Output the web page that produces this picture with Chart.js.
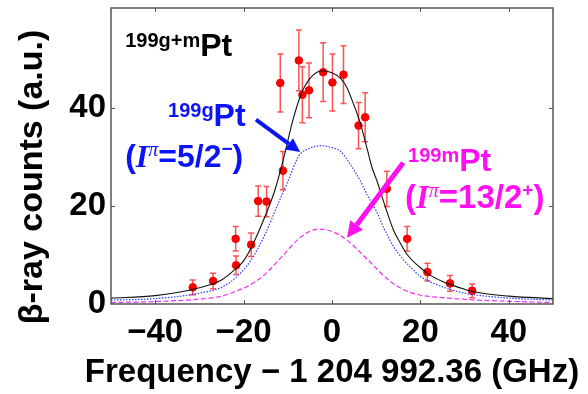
<!DOCTYPE html>
<html>
<head>
<meta charset="utf-8">
<script src="https://cdn.jsdelivr.net/npm/chart.js@4.4.1/dist/chart.umd.min.js"></script>
<style>
  html, body { margin: 0; padding: 0; background: #fff; }
  #wrap { width: 588px; height: 394px; }
</style>
</head>
<body>
<div id="wrap"><canvas id="chart" width="588" height="394"></canvas></div>
<script>
// ---- fit curves ----
// total (199g + 199m), black solid
const totalX = [-50, -40, -30, -25, -22, -20, -18, -15, -13, -11, -9, -7, -5, -2.3, 0, 2, 3.3, 5, 6.3, 8, 9, 10.1, 12, 13.9, 15.4, 17, 20, 22, 25, 27, 30, 32, 40, 50];
const totalY = [1.2, 1.7, 3.3, 4.9, 7.0, 8.8, 12.0, 18.2, 23.0, 29.5, 37.0, 42.8, 46.0, 47.6, 47.2, 46.0, 44.3, 40.5, 37.2, 31.5, 28.0, 25.3, 20.0, 15.1, 12.5, 10.1, 7.4, 6.0, 4.6, 3.9, 3.0, 2.5, 1.6, 1.1];
// ground state 199gPt, blue dotted
const groundX = [-50, -40, -30, -25, -22, -18.5, -15, -12.5, -10, -7.5, -5, -2.5, 0, 2, 4, 6.3, 8, 10, 12, 14, 16, 18, 20, 22, 25, 27, 30, 32, 40, 50];
const groundY = [0.8, 1.1, 2.2, 3.4, 5.2, 8.7, 14.5, 19.8, 25.0, 30.2, 31.8, 32.3, 31.9, 31.1, 28.7, 25.3, 22.2, 19.0, 15.0, 11.6, 9.2, 7.3, 5.6, 4.6, 3.5, 2.9, 2.2, 1.9, 1.2, 0.8];
// isomer 199mPt, magenta dashed
const isomerX = [-50, -40, -30, -25, -22, -18.5, -15, -11, -7, -3, 0, 3.3, 7, 10, 12, 15, 19, 25, 33, 40, 50];
const isomerY = [0.3, 0.5, 1.0, 1.6, 2.5, 3.9, 6.2, 10.0, 13.7, 15.3, 14.8, 13.1, 10.0, 7.3, 5.5, 3.5, 2.0, 1.3, 0.8, 0.55, 0.3];

// ---- measured points with error bars ----
const measX = [-31.5, -26.9, -21.8, -21.7, -18.3, -16.7, -14.8, -11.7, -11.1, -7.5, -6.7, -5.2, -2.0, 0.1, 2.6, 6.0, 7.5, 12.4, 17.0, 21.6, 26.7, 31.7];
const measY = [3.4, 4.7, 13.3, 7.9, 12.1, 21.0, 20.9, 45.1, 27.2, 49.7, 42.7, 43.6, 47.3, 45.2, 46.8, 36.4, 38.1, 23.5, 13.3, 6.5, 4.2, 2.7];
const measErr = [1.5, 1.6, 2.5, 1.9, 2.4, 3.1, 3.1, 5.9, 3.9, 6.2, 5.7, 5.6, 6.0, 5.8, 5.9, 4.7, 5.0, 3.6, 2.5, 1.8, 1.6, 1.4];

// axes
const xRange = [-50, 50];
const yRange = [0, 60.4];
const xLabelled = [-40, -20, 0, 20, 40];
const yLabelled = [0, 20, 40];
const xTitle = 'Frequency − 1 204 992.36 (GHz)';
const yTitle = 'β-ray counts (a.u.)';

const SANS = '"Liberation Sans", Arial, sans-serif';
const SERIF = '"Liberation Serif", "Times New Roman", serif';
const BLUE = '#0a14f5';
const MAGENTA = '#ff10f0';

const toXY = (xs, ys) => xs.map((v, i) => ({ x: v, y: ys[i] }));

// draw text made of pieces (superscripts etc.)
function rich(ctx, x, y, parts, color) {
  ctx.fillStyle = color;
  ctx.textAlign = 'left';
  ctx.textBaseline = 'alphabetic';
  let cx = x;
  parts.forEach(p => {
    ctx.font = p.f;
    ctx.fillText(p.t, cx, y + (p.dy || 0));
    cx += ctx.measureText(p.t).width + (p.sp || 0);
  });
}

function arrow(ctx, x0, y0, x1, y1, color, w, head, hw) {
  const a = Math.atan2(y1 - y0, x1 - x0);
  const bx = x1 - head * Math.cos(a), by = y1 - head * Math.sin(a);
  ctx.strokeStyle = color;
  ctx.fillStyle = color;
  ctx.lineWidth = w;
  ctx.beginPath();
  ctx.moveTo(x0, y0);
  ctx.lineTo(bx, by);
  ctx.stroke();
  ctx.beginPath();
  ctx.moveTo(x1, y1);
  ctx.lineTo(bx + hw * Math.sin(a), by - hw * Math.cos(a));
  ctx.lineTo(bx - hw * Math.sin(a), by + hw * Math.cos(a));
  ctx.closePath();
  ctx.fill();
}

const extras = {
  id: 'extras',
  // error bars go under the red points
  beforeDatasetDraw(chart, args) {
    if (args.index !== 3) return;
    const { ctx, scales: { x, y } } = chart;
    ctx.save();
    ctx.strokeStyle = 'rgba(250,40,40,0.8)';
    ctx.lineWidth = 1.5;
    measX.forEach((mx, i) => {
      const px = x.getPixelForValue(mx);
      const top = y.getPixelForValue(measY[i] + measErr[i]);
      const bot = y.getPixelForValue(measY[i] - measErr[i]);
      ctx.beginPath();
      ctx.moveTo(px, top); ctx.lineTo(px, bot);
      ctx.moveTo(px - 3, top); ctx.lineTo(px + 3, top);
      ctx.moveTo(px - 3, bot); ctx.lineTo(px + 3, bot);
      ctx.stroke();
    });
    ctx.restore();
  },
  afterDraw(chart) {
    const { ctx, chartArea: a, scales: { x, y } } = chart;
    ctx.save();
    // frame with inward ticks
    ctx.strokeStyle = '#555';
    ctx.lineWidth = 1.5;
    ctx.strokeRect(a.left, a.top, a.right - a.left, a.bottom - a.top);
    ctx.lineWidth = 1;
    ctx.beginPath();
    x.ticks.forEach(t => {
      if (t.value <= xRange[0] || t.value >= xRange[1]) return;
      const px = Math.round(x.getPixelForValue(t.value)) + 0.5;
      ctx.moveTo(px, a.bottom); ctx.lineTo(px, a.bottom - 4);
      ctx.moveTo(px, a.top); ctx.lineTo(px, a.top + 4);
    });
    y.ticks.forEach(t => {
      if (t.value <= yRange[0] || t.value >= 60) return;
      const py = Math.round(y.getPixelForValue(t.value)) + 0.5;
      ctx.moveTo(a.left, py); ctx.lineTo(a.left + 4, py);
      ctx.moveTo(a.right, py); ctx.lineTo(a.right - 4, py);
    });
    ctx.stroke();

    // axis titles (wider than the plot, so drawn here instead of the scale title)
    ctx.fillStyle = '#000';
    ctx.textAlign = 'center';
    ctx.textBaseline = 'middle';
    ctx.font = 'bold 33px ' + SANS;
    ctx.fillText(xTitle, (a.left + a.right) / 2, 373);
    ctx.save();
    ctx.translate(33, 177);
    ctx.rotate(-Math.PI / 2);
    ctx.font = 'bold 34px ' + SANS;
    ctx.fillText(yTitle, 0, 0);
    ctx.restore();

    // labels and arrows, anchored in data units
    const P = (vx, vy) => [x.getPixelForValue(vx), y.getPixelForValue(vy)];
    const sup = 'bold 20px ' + SANS;
    const pt = 'bold 32px ' + SANS;

    let [tx, ty] = P(-46.8, 50.6);
    rich(ctx, tx, ty, [{ t: '199g+m', f: sup, dy: -9 }, { t: 'Pt', f: pt }], '#000');

    [tx, ty] = P(-37.1, 36.3);
    rich(ctx, tx, ty, [{ t: '199g', f: sup, dy: -9 }, { t: 'Pt', f: pt }], BLUE);
    [tx, ty] = P(-46.8, 28.0);
    rich(ctx, tx, ty, [
      { t: '(', f: 'bold 32px ' + SANS },
      { t: 'I', f: 'italic bold 32px ' + SERIF },
      { t: 'π', f: 'italic 20px ' + SERIF, dy: -11 },
      { t: '=5/2', f: 'bold 32px ' + SANS },
      { t: '−', f: 'bold 19px ' + SANS, dy: -12 },
      { t: ')', f: 'bold 32px ' + SANS }
    ], BLUE);

    [tx, ty] = P(17.2, 27.1);
    rich(ctx, tx, ty, [{ t: '199m', f: sup, dy: -9 }, { t: 'Pt', f: pt }], MAGENTA);
    [tx, ty] = P(16.5, 19.6);
    rich(ctx, tx, ty, [
      { t: '(', f: 'bold 33px ' + SANS },
      { t: 'I', f: 'italic bold 33px ' + SERIF },
      { t: 'π', f: 'italic 20px ' + SERIF, dy: -11 },
      { t: '=13/2', f: 'bold 33px ' + SANS },
      { t: '+', f: 'bold 19px ' + SANS, dy: -12 },
      { t: ')', f: 'bold 33px ' + SANS }
    ], MAGENTA);

    let [ax0, ay0] = P(-17.2, 37.6), [ax1, ay1] = P(-7.2, 31.0);
    arrow(ctx, ax0, ay0, ax1, ay1, BLUE, 4, 14, 7);
    [ax0, ay0] = P(16.1, 28.8);
    [ax1, ay1] = P(3.4, 13.5);
    arrow(ctx, ax0, ay0, ax1, ay1, MAGENTA, 5, 16, 8);
    ctx.restore();
  }
};

const tickFont = { family: SANS, size: 33, weight: 'bold' };

new Chart(document.getElementById('chart').getContext('2d'), {
  type: 'line',
  data: {
    datasets: [
      {
        label: 'total',
        data: toXY(totalX, totalY),
        borderColor: '#111',
        borderWidth: 1.1,
        pointRadius: 0,
        cubicInterpolationMode: 'monotone',
        fill: false
      },
      {
        label: '199gPt',
        data: toXY(groundX, groundY),
        borderColor: '#2a3cff',
        borderWidth: 1.2,
        borderDash: [1.5, 1.5],
        pointRadius: 0,
        cubicInterpolationMode: 'monotone',
        fill: false
      },
      {
        label: '199mPt',
        data: toXY(isomerX, isomerY),
        borderColor: '#f030f0',
        borderWidth: 1.2,
        borderDash: [5, 2.5],
        pointRadius: 0,
        cubicInterpolationMode: 'monotone',
        fill: false
      },
      {
        label: 'data',
        type: 'scatter',
        data: toXY(measX, measY),
        showLine: false,
        pointRadius: 3.8,
        pointBackgroundColor: '#ff0000',
        pointBorderColor: '#ee0000',
        pointBorderWidth: 1
      }
    ]
  },
  options: {
    responsive: false,
    animation: false,
    devicePixelRatio: 1,
    layout: { padding: { top: 8, right: 35, left: 0, bottom: 0 } },
    plugins: { legend: { display: false }, tooltip: { enabled: false } },
    scales: {
      x: {
        type: 'linear',
        min: xRange[0],
        max: xRange[1],
        afterFit: s => { s.height = 90; s.paddingLeft = 0; s.paddingRight = 0; },
        grid: { display: false, drawTicks: false },
        border: { display: false },
        ticks: {
          stepSize: 10,
          autoSkip: false,
          maxRotation: 0,
          padding: 9,
          color: '#000',
          font: tickFont,
          callback: v => xLabelled.includes(v) ? (v < 0 ? '−' + Math.abs(v) : String(v)) : null
        },
        title: { display: false }
      },
      y: {
        type: 'linear',
        min: yRange[0],
        max: yRange[1],
        afterFit: s => { s.width = 111; s.paddingTop = 0; s.paddingBottom = 0; },
        grid: { display: false, drawTicks: false },
        border: { display: false },
        ticks: {
          stepSize: 10,
          autoSkip: false,
          padding: 5,
          color: '#000',
          font: tickFont,
          callback: v => yLabelled.includes(v) ? String(v) : null
        },
        title: { display: false }
      }
    }
  },
  plugins: [extras]
});
</script>
</body>
</html>
